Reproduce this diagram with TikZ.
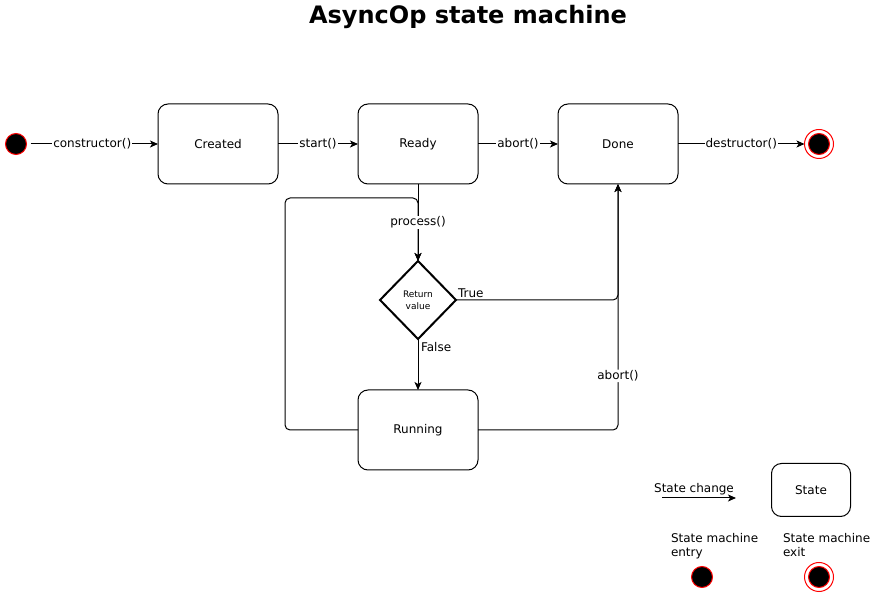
\documentclass[tikz,border=0pt]{standalone}
\usepackage{fontspec}
\setmainfont{DejaVu Sans}
\usetikzlibrary{shapes.geometric,arrows.meta}

\begin{document}
\begin{tikzpicture}[x=1pt,y=-1pt,inner sep=0pt,outer sep=0pt,line width=1pt,
font=\fontsize{12}{14}\selectfont,>={Stealth[length=8pt,width=7pt,inset=2pt]},
statebox/.style={draw,rectangle,rounded corners=10pt,minimum width=120pt,minimum height=80pt},
pseudo/.style={draw=red,fill=black,circle,minimum size=21pt},
ring/.style={draw=red,circle,minimum size=29pt},
edgelabel/.style={fill=white,inner sep=1pt}]
\useasboundingbox (0,0) rectangle (879,593);
\draw (468,17) node[font=\bfseries\fontsize{24}{28}\selectfont] (title) {AsyncOp state machine};

\draw (16,144) node[pseudo] (init) {};
\draw (218,144) node[statebox] (created) {Created};
\draw (418,144) node[statebox] (ready) {Ready};
\draw (618,144) node[statebox] (done) {Done};
\draw (819,144) node[ring] (final) {};
\draw (819,144) node[pseudo] (finaldot) {};
\draw (418,300) node[diamond,draw,line width=2pt,minimum width=76pt,minimum height=78pt,
  align=center,font=\fontsize{9}{12}\selectfont] (retval) {Return\\value};
\draw (418,430) node[statebox] (running) {Running};

\draw[->,shorten <=4pt] (init) -- (created) node[midway,edgelabel] {constructor()};
\draw[->] (created) -- (ready) node[midway,edgelabel] {start()};
\draw[->] (ready) -- (done) node[midway,edgelabel] {abort()};
\draw[->] (done) -- (final) node[midway,edgelabel] {destructor()};
\draw[->,rounded corners=5pt] (running.west) -- (285,430) -- (285,198) -- (418,198) -- (retval.north);
\draw[->] (ready) -- (retval) node[midway,edgelabel] {process()};
\draw[->,rounded corners=5pt] (retval.east) node[above right=2pt] {True} -| (done.south);
\draw[->] (retval.south) node[below right=3pt] {False} -- (running.north);
\draw[->,rounded corners=5pt] (running.east) -| (done.south) node[pos=0.61,edgelabel] {abort()};

% legend
\draw (694,489) node (chglabel) {State change};
\coordinate (chgfrom) at (662,498);
\coordinate (chgto) at (736,498);
\draw[->] (chgfrom) -- (chgto);
\draw (811,490) node[statebox,minimum width=79pt,minimum height=53pt] (legstate) {State};
\draw (671,533) node[anchor=north west,align=left] (legentry) {State machine\\entry};
\draw (702,577) node[pseudo] (legentrydot) {};
\draw (783,533) node[anchor=north west,align=left] (legexit) {State machine\\exit};
\draw (819,577) node[ring] (legexitring) {};
\draw (819,577) node[pseudo] (legexitdot) {};
\end{tikzpicture}
\end{document}
